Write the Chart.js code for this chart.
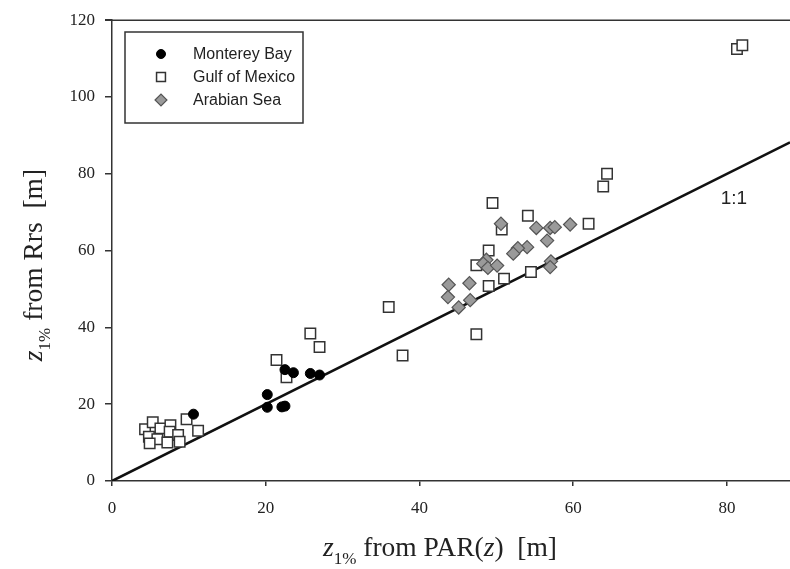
<!DOCTYPE html>
<html>
<head>
<meta charset="utf-8">
<script src="https://cdn.jsdelivr.net/npm/chart.js@4.4.1/dist/chart.umd.min.js"></script>
<style>
  html, body { margin: 0; padding: 0; background: #fff; }
  #c { display: block; }
</style>
</head>
<body>
<canvas id="c" width="790" height="569"></canvas>
<script>
// ---- Data ----
const seriesNames = ['Monterey Bay', 'Gulf of Mexico', 'Arabian Sea'];

const montereyX = [10.6, 20.2, 20.2, 22.1, 22.5, 22.5, 23.6, 25.8, 27.0];
const montereyY = [17.4, 22.5, 19.2, 19.3, 19.5, 29.0, 28.2, 28.0, 27.6];

const gulfX = [4.3, 5.3, 6.3, 7.6, 7.5, 8.6, 4.8, 5.9, 4.9, 7.2, 8.8, 9.7, 11.2,
               25.8, 27.0, 21.4, 22.7, 36.0, 37.8, 47.4,
               64.4, 63.9, 49.5, 54.1, 50.7, 62.0, 49.0, 47.4, 51.0, 49.0, 54.5,
               81.3, 82.0];
const gulfY = [13.5, 15.3, 13.7, 14.5, 12.8, 12.0, 11.5, 10.9, 9.8, 10.0, 10.2, 16.1, 13.1,
               38.4, 34.9, 31.5, 27.0, 45.3, 32.7, 38.2,
               80.0, 76.7, 72.4, 69.1, 65.5, 67.0, 60.0, 56.2, 52.7, 50.8, 54.4,
               112.5, 113.5];

const arabianX = [50.6, 55.2, 57.0, 57.6, 59.6, 56.6, 54.0, 52.8, 52.2, 48.7,
                  48.3, 48.9, 50.1, 57.1, 57.0, 43.8, 46.5, 43.7, 46.6, 45.1];
const arabianY = [67.0, 65.9, 65.9, 66.1, 66.8, 62.6, 60.9, 60.6, 59.2, 57.6,
                  56.6, 55.5, 56.1, 57.2, 55.7, 51.1, 51.5, 47.9, 47.1, 45.2];

const oneToOneX = [0, 88.2];
const oneToOneLabel = '1:1';
const oneToOneLabelAt = [80.9, 73.5];

const xTicks = [0, 20, 40, 60, 80];
const yTicks = [0, 20, 40, 60, 80, 100, 120];
const xRange = [0, 88.2];
const yRange = [0, 120];

const xTitleParts = [{t: 'z', italic: true}, {t: '1%', sub: true}, {t: ' from PAR('}, {t: 'z', italic: true}, {t: ')  [m]'}];
const yTitleParts = [{t: 'z', italic: true}, {t: '1%', sub: true}, {t: ' from Rrs  [m]'}];

// ---- helpers ----
const toPts = (xs, ys) => xs.map((x, i) => ({x: x, y: ys[i]}));
const AXIS = '#333';
const SERIF = '"Liberation Serif", "Times New Roman", serif';
const SANS = '"Liberation Sans", Arial, sans-serif';

const styles = [
  {pointStyle: 'circle', radius: 5, bg: '#000', border: '#000', bw: 1},
  {pointStyle: 'rect', radius: 7.4, bg: '#fff', border: '#333', bw: 1.5},
  {pointStyle: 'rectRot', radius: 6.6, bg: '#9a9a9a', border: '#555', bw: 1.2}
];

function measureParts(ctx, parts, size) {
  let w = 0;
  parts.forEach(p => {
    const s = p.sub ? size * 0.62 : size;
    ctx.font = (p.italic ? 'italic ' : '') + s + 'px ' + SERIF;
    w += ctx.measureText(p.t).width;
  });
  return w;
}
function drawParts(ctx, parts, size, x, y) {
  parts.forEach(p => {
    const s = p.sub ? size * 0.62 : size;
    ctx.font = (p.italic ? 'italic ' : '') + s + 'px ' + SERIF;
    ctx.fillText(p.t, x, p.sub ? y + size * 0.28 : y);
    x += ctx.measureText(p.t).width;
  });
}

const decorPlugin = {
  id: 'decor',
  afterDraw(chart) {
    const ctx = chart.ctx;
    const ca = chart.chartArea;
    ctx.save();
    // top frame line
    ctx.strokeStyle = AXIS;
    ctx.lineWidth = 1.5;
    ctx.beginPath();
    ctx.moveTo(ca.left - 7, ca.top);
    ctx.lineTo(ca.right, ca.top);
    ctx.stroke();

    // axis titles
    ctx.fillStyle = '#222';
    ctx.textBaseline = 'alphabetic';
    ctx.textAlign = 'left';
    const ts = 27.5;
    const wx = measureParts(ctx, xTitleParts, ts);
    drawParts(ctx, xTitleParts, ts, 440 - wx / 2, 556);
    const wy = measureParts(ctx, yTitleParts, ts);
    ctx.save();
    ctx.translate(42, 265);
    ctx.rotate(-Math.PI / 2);
    drawParts(ctx, yTitleParts, ts, -wy / 2, 0);
    ctx.restore();

    // 1:1 label
    const xs = chart.scales.x, ys = chart.scales.y;
    ctx.font = '19px ' + SANS;
    ctx.textAlign = 'center';
    ctx.textBaseline = 'middle';
    ctx.fillStyle = '#222';
    ctx.fillText(oneToOneLabel, xs.getPixelForValue(oneToOneLabelAt[0]), ys.getPixelForValue(oneToOneLabelAt[1]));

    // legend
    ctx.strokeStyle = '#333';
    ctx.lineWidth = 1.5;
    ctx.strokeRect(125, 32, 178, 91);
    const rows = [54, 77, 100];
    ctx.font = '16px ' + SANS;
    ctx.textAlign = 'left';
    ctx.textBaseline = 'middle';
    seriesNames.forEach((name, i) => {
      const st = styles[i];
      ctx.fillStyle = st.bg;
      ctx.strokeStyle = st.border;
      ctx.lineWidth = st.bw;
      const r = i === 1 ? st.radius * 0.85 : st.radius * 0.9;
      Chart.helpers.drawPoint(ctx, {pointStyle: st.pointStyle, radius: r, rotation: 0, borderWidth: st.bw}, 161, rows[i]);
      ctx.fillStyle = '#222';
      ctx.fillText(name, 193, rows[i] + 1);
    });
    ctx.restore();
  }
};

const mkSet = (label, pts, st) => ({
  label: label,
  data: pts,
  pointStyle: st.pointStyle,
  pointRadius: st.radius,
  pointHoverRadius: st.radius,
  backgroundColor: st.bg,
  borderColor: st.border,
  pointBorderWidth: st.bw,
  borderWidth: st.bw,
  showLine: false
});

new Chart(document.getElementById('c'), {
  type: 'scatter',
  data: {
    datasets: [
      mkSet(seriesNames[0], toPts(montereyX, montereyY), styles[0]),
      mkSet(seriesNames[2], toPts(arabianX, arabianY), styles[2]),
      mkSet(seriesNames[1], toPts(gulfX, gulfY), styles[1]),
      {
        type: 'line',
        label: oneToOneLabel,
        data: toPts(oneToOneX, oneToOneX),
        borderColor: '#111',
        borderWidth: 2.6,
        pointRadius: 0,
        fill: false
      }
    ]
  },
  options: {
    responsive: false,
    animation: false,
    devicePixelRatio: 1,
    layout: {autoPadding: false, padding: {top: 20, right: 0, left: 0, bottom: 0}},
    plugins: {legend: {display: false}, tooltip: {enabled: false}},
    scales: {
      x: {
        type: 'linear',
        min: xRange[0], max: xRange[1],
        afterFit: s => { s.height = 88; s.paddingRight = 0; s.paddingLeft = 0; },
        afterBuildTicks: s => { s.ticks = xTicks.map(v => ({value: v})); },
        grid: {drawOnChartArea: false, drawTicks: true, tickLength: 5, color: AXIS, lineWidth: 1.5},
        border: {display: true, color: AXIS, width: 1.5},
        ticks: {font: {family: SERIF, size: 17}, color: '#222', padding: 12, includeBounds: false}
      },
      y: {
        type: 'linear',
        min: yRange[0], max: yRange[1],
        afterFit: s => { s.width = 112; },
        afterBuildTicks: s => { s.ticks = yTicks.map(v => ({value: v})); },
        grid: {drawOnChartArea: false, drawTicks: true, tickLength: 7, color: AXIS, lineWidth: 1.5},
        border: {display: true, color: AXIS, width: 1.5},
        ticks: {font: {family: SERIF, size: 17}, color: '#222', padding: 10, includeBounds: false}
      }
    }
  },
  plugins: [decorPlugin]
});
</script>
</body>
</html>
